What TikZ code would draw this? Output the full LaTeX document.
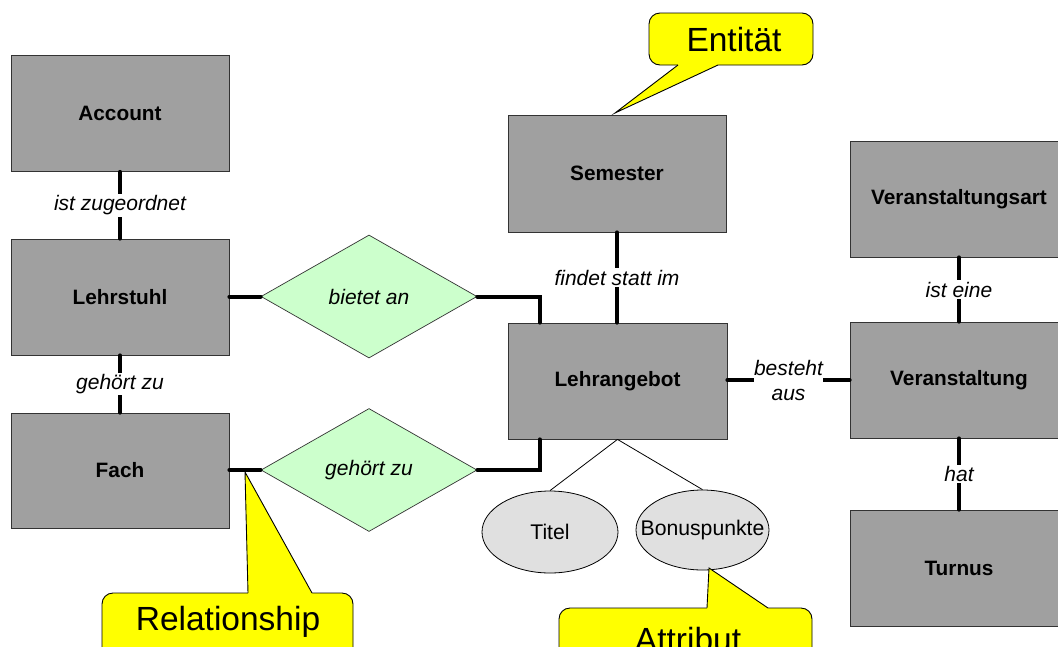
\documentclass[tikz,border=0pt]{standalone}
\usepackage{fontspec}
\setmainfont{Liberation Sans}
\usetikzlibrary{shapes.geometric,calc}
\definecolor{boxgray}{RGB}{160,160,160}
\definecolor{relgreen}{RGB}{204,255,204}
\definecolor{attgray}{RGB}{224,224,224}
\definecolor{callyellow}{RGB}{255,255,0}
\tikzset{
  entity/.style={draw=black!80, line width=0.8pt, fill=boxgray, minimum width=218pt, minimum height=116pt, inner sep=0pt, font=\fontsize{20.8}{23}\selectfont\bfseries},
  relation/.style={diamond, draw=black!80, line width=0.7pt, fill=relgreen, minimum width=216pt, minimum height=123pt, inner sep=0pt, font=\fontsize{21}{23}\selectfont\itshape},
  attrib/.style={ellipse, draw=black, line width=0.8pt, fill=attgray, inner xsep=-25pt, inner ysep=0pt, font=\fontsize{21.2}{23}\selectfont},
  conn/.style={line width=4pt, line cap=round},
  thin/.style={line width=0.8pt},
  lbl/.style={fill=white, inner sep=1.5pt, font=\fontsize{21}{23}\selectfont\itshape, align=center},
  callbox/.style={fill=callyellow, draw=black, line width=0.9pt, rounded corners=11pt},
  calltext/.style={font=\fontsize{33.5}{36}\selectfont},
}
\begin{document}
\begin{tikzpicture}[x=1pt,y=-1pt]
\useasboundingbox (0,0) rectangle (1058,646);
\clip (0,0) rectangle (1058,646);
\fill[white] (0,0) rectangle (1058,646);

% entities
\node[entity] (account) at (120,113.5) {Account};
\node[entity] (lehrstuhl) at (120,297) {Lehrstuhl};
\node[entity, minimum height=115pt] (fach) at (120,470.5) {Fach};
\node[entity, minimum height=117pt] (semester) at (617,173.5) {Semester};
\node[entity, minimum width=219pt] (lehrangebot) at (617.5,381) {Lehrangebot};
\node[entity] (vart) at (959,199) {Veranstaltungsart};
\node[entity] (veranst) at (959,380) {Veranstaltung};
\node[entity] (turnus) at (959,568) {Turnus};

% relationships
\node[relation] (bietet) at (369,296.5) {bietet an};
\node[relation] (gehoert) at (369,470) {gehört zu};

% attributes
\node[attrib, minimum width=136pt, minimum height=82pt] (titel) at (550,532) {Titel};
\node[attrib, minimum width=133pt, minimum height=80pt] (bonus) at (702.5,530) {Bonuspunkte};

% connectors
\draw[conn] (account.south) -- node[lbl] {ist zugeordnet} (lehrstuhl.north);
\draw[conn] (lehrstuhl.south) -- node[lbl] {gehört zu} (fach.north);
\draw[conn] (lehrstuhl.east |- bietet.west) -- (bietet.west);
\draw[conn] (fach.east |- gehoert.west) -- (gehoert.west);
\draw[conn] (bietet.east) -| ($(lehrangebot.north west)+(32,0)$);
\draw[conn] (gehoert.east) -| ($(lehrangebot.south west)+(32,0)$);
\draw[conn] (semester.south) -- node[lbl] {findet statt im} (lehrangebot.north -| semester.south);
\draw[conn] (lehrangebot.east |- veranst.west) -- node[lbl, inner xsep=0.5pt, font=\fontsize{21}{25}\selectfont\itshape] {besteht\\aus} (veranst.west);
\draw[conn] (vart.south) -- node[lbl] {ist eine} (veranst.north);
\draw[conn] (veranst.south) -- node[lbl] {hat} (turnus.north);
\draw[thin] (lehrangebot.south) -- (titel.north);
\draw[thin] (lehrangebot.south) -- (bonus.north);

% callout: Entitaet
\coordinate (entTip) at (615,113);
\draw[callbox] (649,13) rectangle (813,65);
\fill[callyellow] (678,60) -- (718,60) -- (718,65) -- (entTip) -- (678,65) -- cycle;
\draw[line width=0.9pt] (678,65) -- (entTip) -- (718,65);
\node[calltext] (entlabel) at (734,40) {Entität};

% callout: Relationship
\coordinate (relTip) at (245,472);
\draw[callbox] (102,593) rectangle (353,670);
\fill[callyellow] (248,598) -- (248,593) -- (relTip) -- (312,593) -- (312,598) -- cycle;
\draw[line width=0.9pt] (248,593) -- (relTip) -- (312,593);
\node[calltext] (rellabel) at (228,622) {Relationship};

% callout: Attribut
\coordinate (attTip) at (709,568);
\draw[callbox] (559,608) rectangle (812,690);
\fill[callyellow] (707,613) -- (707,608) -- (attTip) -- (768,608) -- (768,613) -- cycle;
\draw[line width=0.9pt] (707,608) -- (attTip) -- (768,608);
\node[calltext] (attlabel) at (688,640) {Attribut};
\end{tikzpicture}
\end{document}
